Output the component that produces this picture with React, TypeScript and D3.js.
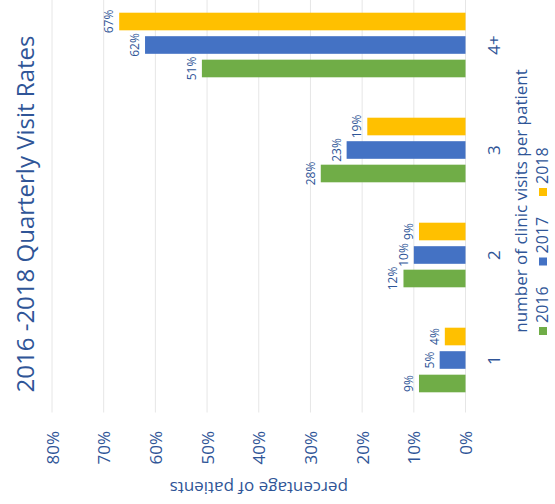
import React from 'react';
import * as d3 from 'd3';

const categories = ['1', '2', '3', '4+'];
const years = ['2016', '2017', '2018'];
const values2016 = [0.09, 0.12, 0.28, 0.51];
const values2017 = [0.05, 0.10, 0.23, 0.62];
const values2018 = [0.04, 0.09, 0.19, 0.67];
const yTicks = [0, 0.1, 0.2, 0.3, 0.4, 0.5, 0.6, 0.7, 0.8];
const seriesColors = ['#70AD47', '#4472C4', '#FFC000'];
const titleText = '2016 -2018 Quarterly Visit Rates';
const xTitle = 'number of clinic visits per patient';
const yTitle = 'percentage of patients';

const W = 555;
const H = 504;
const FONT = "'Open Sans', 'Noto Sans', sans-serif";
const TEXT_BLUE = '#2F5597';

export default function App() {
  const series = [values2016, values2017, values2018];
  // drawn in the chart's own (unrotated) frame, then rotated -90deg
  const x0 = d3.scaleBand().domain(categories).range([91.5, 511.5]).paddingInner(0).paddingOuter(0);
  const x1 = d3.scaleBand().domain(years).range([20.2, 84.8]).paddingInner(0.25);
  const y = d3.scaleLinear().domain([0, 0.8]).range([465.5, 52]);
  const fmt = d3.format('.0%');
  const legendX = d3.scalePoint().domain(years).range([169, 308]);

  return (
    <svg width={W} height={H} style={{ position: 'absolute', left: 0, top: 0, background: '#fff' }} fontFamily={FONT}>
      <rect x={0} y={0} width={W} height={H} fill="#fff" />
      <g transform={`translate(0,${H}) rotate(-90)`}>
        <text x={290} y={34} textAnchor="middle" fontSize={24} fill={TEXT_BLUE}>{titleText}</text>
        {yTicks.map((t) => (
          <line key={'g' + t} x1={91.5} x2={511.5} y1={y(t)} y2={y(t)} stroke="#E6E6E6" strokeWidth={1} />
        ))}
        {yTicks.map((t) => (
          <text key={'t' + t} x={73} y={y(t)} textAnchor="end" dominantBaseline="central" fontSize={17} fill={TEXT_BLUE}>
            {fmt(t)}
          </text>
        ))}
        <text transform={`translate(22,${(y(0) + y(0.8)) / 2}) rotate(-90)`} textAnchor="middle" fontSize={17} fill={TEXT_BLUE}>
          {yTitle}
        </text>
        {categories.map((c, ci) => (
          <g key={c} transform={`translate(${x0(c)},0)`}>
            {years.map((yr, si) => {
              const v = series[si][ci];
              const bx = x1(yr)!;
              return (
                <g key={yr}>
                  <rect x={bx} y={y(v)} width={x1.bandwidth()} height={y(0) - y(v)} fill={seriesColors[si]} />
                  <text x={bx + x1.bandwidth() / 2} y={y(v) - 6} textAnchor="middle" fontSize={12} fill={TEXT_BLUE}>
                    {fmt(v)}
                  </text>
                </g>
              );
            })}
            <text x={x0.bandwidth() / 2} y={500} textAnchor="middle" fontSize={17} fill={TEXT_BLUE}>{c}</text>
          </g>
        ))}
        <text x={303} y={527} textAnchor="middle" fontSize={17} fill={TEXT_BLUE}>{xTitle}</text>
        {years.map((yr, si) => (
          <g key={'l' + yr} transform={`translate(${legendX(yr)},0)`}>
            <rect x={0} y={539} width={8} height={8} fill={seriesColors[si]} />
            <text x={12} y={548} fontSize={16} fill={TEXT_BLUE}>{yr}</text>
          </g>
        ))}
      </g>
    </svg>
  );
}
